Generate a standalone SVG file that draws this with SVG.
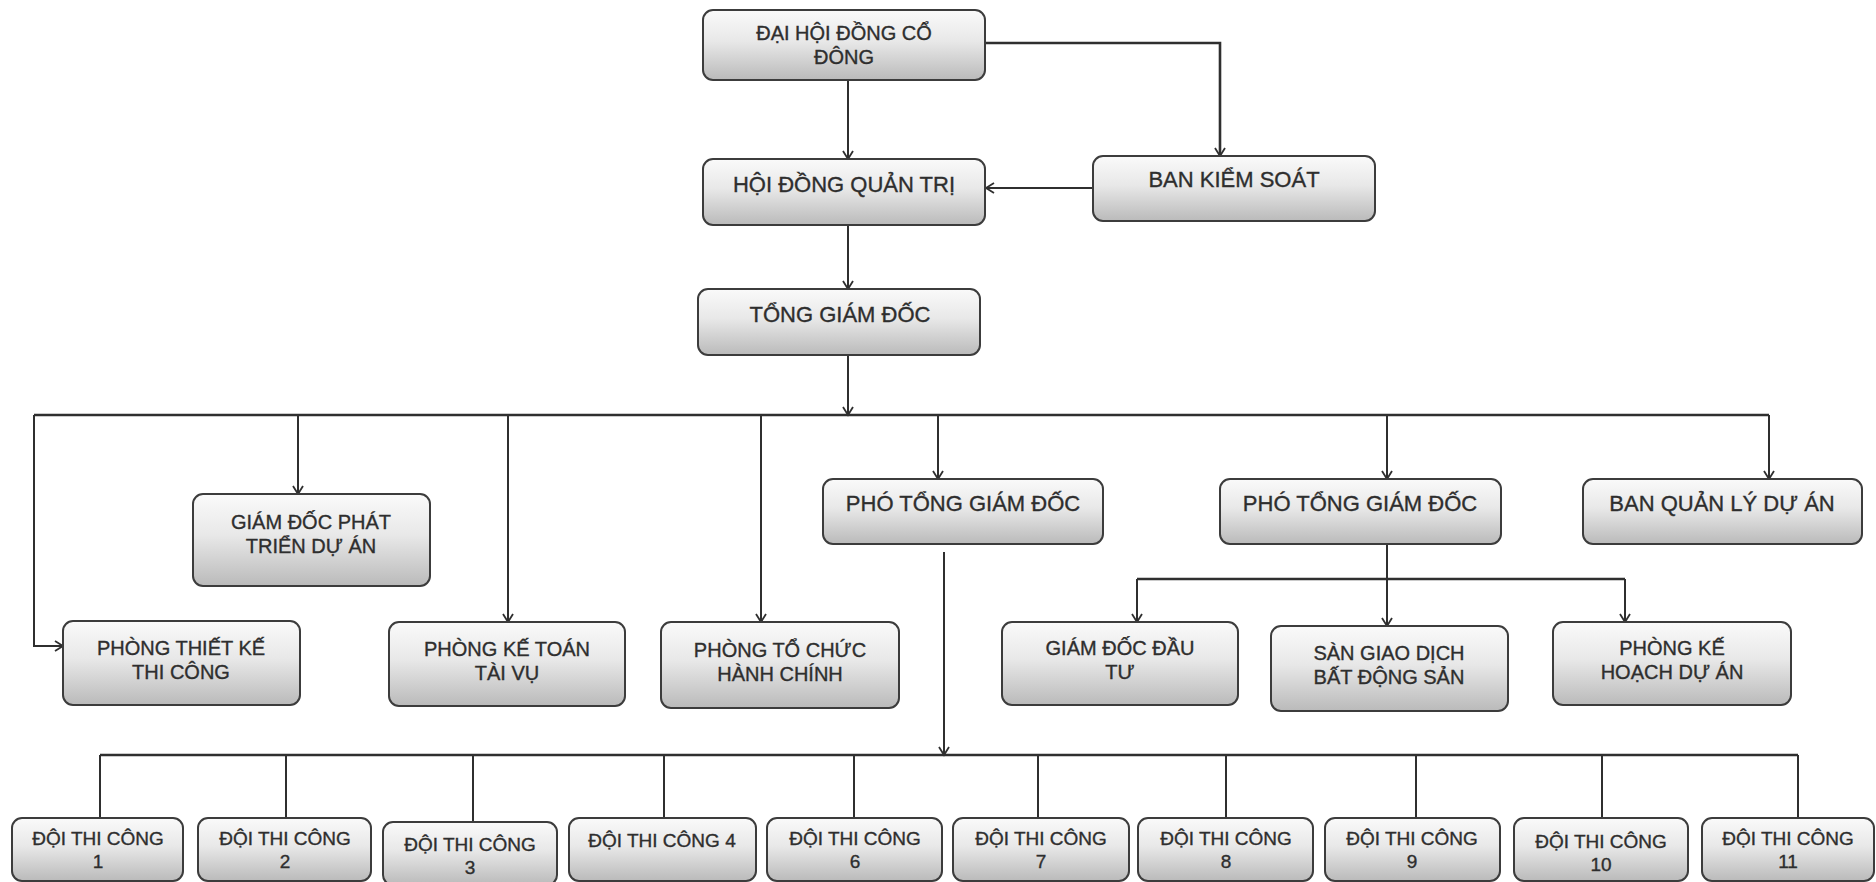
<svg xmlns="http://www.w3.org/2000/svg" width="1876" height="882" viewBox="0 0 1876 882">
<defs>
<linearGradient id="g" x1="0" y1="0" x2="0" y2="1">
<stop offset="0" stop-color="#fafafa"/>
<stop offset="0.45" stop-color="#e8e8e8"/>
<stop offset="1" stop-color="#bababa"/>
</linearGradient>
<marker id="arr" markerWidth="12" markerHeight="12" refX="10" refY="6" orient="auto" markerUnits="userSpaceOnUse">
<path d="M2,1 L10,6 L2,11" fill="none" stroke="#2f2f2f" stroke-width="1.8"/>
</marker>
<style>
.box{fill:url(#g);stroke:#3c3c3c;stroke-width:2}
.t{font-family:"Liberation Sans",Arial,sans-serif;fill:#2e2e2e;stroke:#2e2e2e;stroke-width:0.35;text-anchor:middle}
.l{font-size:22px}
.m{font-size:20px}
.s{font-size:19px}
.c{fill:none;stroke:#2f2f2f;stroke-width:2}
.b{fill:none;stroke:#2f2f2f;stroke-width:2.6}
.a{marker-end:url(#arr)}
</style>
</defs>
<rect width="1876" height="882" fill="#ffffff"/>

<g id="connectors">
<path class="b a" d="M985,43 H1220 V156"/>
<path class="c a" d="M848,80 V159"/>
<path class="c a" d="M1093,188 H986"/>
<path class="c a" d="M848,225 V289"/>
<path class="c a" d="M848,355 V415"/>
<path class="b" d="M34,415 H1769"/>
<path class="c a" d="M34,415 V646 H63"/>
<path class="c a" d="M298,415 V494"/>
<path class="c a" d="M508,415 V622"/>
<path class="c a" d="M761,415 V622"/>
<path class="c a" d="M938,415 V479"/>
<path class="c a" d="M1387,415 V479"/>
<path class="c a" d="M1769,415 V479"/>
<path class="c a" d="M944,552 V755"/>
<path class="c a" d="M1387,544 V626"/>
<path class="b" d="M1137,579 H1625"/>
<path class="c a" d="M1137,579 V622"/>
<path class="c a" d="M1625,579 V622"/>
<path class="b" d="M100,755 H1798"/>
<path class="c" d="M100,755 V818 M286,755 V818 M473,755 V822 M664,755 V818 M854,755 V818 M1038,755 V818 M1226,755 V818 M1416,755 V818 M1602,755 V818 M1798,755 V818"/>
</g>

<g id="dhcd"><rect class="box" x="703" y="10" width="282" height="70" rx="10"/><text class="t m" x="844" y="40">ĐẠI HỘI ĐỒNG CỔ</text><text class="t m" x="844" y="64">ĐÔNG</text></g>
<g id="hdqt"><rect class="box" x="703" y="159" width="282" height="66" rx="10"/><text class="t l" x="844" y="192">HỘI ĐỒNG QUẢN TRỊ</text></g>
<g id="bks"><rect class="box" x="1093" y="156" width="282" height="65" rx="10"/><text class="t l" x="1234" y="187">BAN KIỂM SOÁT</text></g>
<g id="tgd"><rect class="box" x="698" y="289" width="282" height="66" rx="10"/><text class="t l" x="840" y="322">TỔNG GIÁM ĐỐC</text></g>
<g id="ptgd1"><rect class="box" x="823" y="479" width="280" height="65" rx="10"/><text class="t l" x="963" y="511">PHÓ TỔNG GIÁM ĐỐC</text></g>
<g id="ptgd2"><rect class="box" x="1220" y="479" width="281" height="65" rx="10"/><text class="t l" x="1360" y="511">PHÓ TỔNG GIÁM ĐỐC</text></g>
<g id="bqlda"><rect class="box" x="1583" y="479" width="279" height="65" rx="10"/><text class="t l" x="1722" y="511">BAN QUẢN LÝ DỰ ÁN</text></g>
<g id="gdpt"><rect class="box" x="193" y="494" width="237" height="92" rx="10"/><text class="t m" x="311" y="529">GIÁM ĐỐC PHÁT</text><text class="t m" x="311" y="553">TRIỂN DỰ ÁN</text></g>
<g id="ptk"><rect class="box" x="63" y="621" width="237" height="84" rx="10"/><text class="t m" x="181" y="655">PHÒNG THIẾT KẾ</text><text class="t m" x="181" y="679">THI CÔNG</text></g>
<g id="pkt"><rect class="box" x="389" y="622" width="236" height="84" rx="10"/><text class="t m" x="507" y="656">PHÒNG KẾ TOÁN</text><text class="t m" x="507" y="680">TÀI VỤ</text></g>
<g id="ptc"><rect class="box" x="661" y="622" width="238" height="86" rx="10"/><text class="t m" x="780" y="657">PHÒNG TỔ CHỨC</text><text class="t m" x="780" y="681">HÀNH CHÍNH</text></g>
<g id="gddt"><rect class="box" x="1002" y="622" width="236" height="83" rx="10"/><text class="t m" x="1120" y="655">GIÁM ĐỐC ĐẦU</text><text class="t m" x="1120" y="679">TƯ</text></g>
<g id="san"><rect class="box" x="1271" y="626" width="237" height="85" rx="10"/><text class="t m" x="1389" y="660">SÀN GIAO DỊCH</text><text class="t m" x="1389" y="684">BẤT ĐỘNG SẢN</text></g>
<g id="pkh"><rect class="box" x="1553" y="622" width="238" height="83" rx="10"/><text class="t m" x="1672" y="655">PHÒNG KẾ</text><text class="t m" x="1672" y="679">HOẠCH DỰ ÁN</text></g>

<g id="dtc1"><rect class="box" x="12" y="818" width="171" height="63" rx="10"/><text class="t s" x="98" y="845">ĐỘI THI CÔNG</text><text class="t s" x="98" y="868">1</text></g>
<g id="dtc2"><rect class="box" x="198" y="818" width="173" height="63" rx="10"/><text class="t s" x="285" y="845">ĐỘI THI CÔNG</text><text class="t s" x="285" y="868">2</text></g>
<g id="dtc3"><rect class="box" x="383" y="822" width="174" height="63" rx="10"/><text class="t s" x="470" y="851">ĐỘI THI CÔNG</text><text class="t s" x="470" y="874">3</text></g>
<g id="dtc4"><rect class="box" x="569" y="818" width="187" height="63" rx="10"/><text class="t s" x="662" y="847">ĐỘI THI CÔNG 4</text></g>
<g id="dtc6"><rect class="box" x="767" y="818" width="175" height="63" rx="10"/><text class="t s" x="855" y="845">ĐỘI THI CÔNG</text><text class="t s" x="855" y="868">6</text></g>
<g id="dtc7"><rect class="box" x="953" y="818" width="176" height="63" rx="10"/><text class="t s" x="1041" y="845">ĐỘI THI CÔNG</text><text class="t s" x="1041" y="868">7</text></g>
<g id="dtc8"><rect class="box" x="1138" y="818" width="175" height="63" rx="10"/><text class="t s" x="1226" y="845">ĐỘI THI CÔNG</text><text class="t s" x="1226" y="868">8</text></g>
<g id="dtc9"><rect class="box" x="1325" y="818" width="175" height="63" rx="10"/><text class="t s" x="1412" y="845">ĐỘI THI CÔNG</text><text class="t s" x="1412" y="868">9</text></g>
<g id="dtc10"><rect class="box" x="1514" y="818" width="174" height="63" rx="10"/><text class="t s" x="1601" y="848">ĐỘI THI CÔNG</text><text class="t s" x="1601" y="871">10</text></g>
<g id="dtc11"><rect class="box" x="1702" y="818" width="172" height="63" rx="10"/><text class="t s" x="1788" y="845">ĐỘI THI CÔNG</text><text class="t s" x="1788" y="868">11</text></g>
</svg>
